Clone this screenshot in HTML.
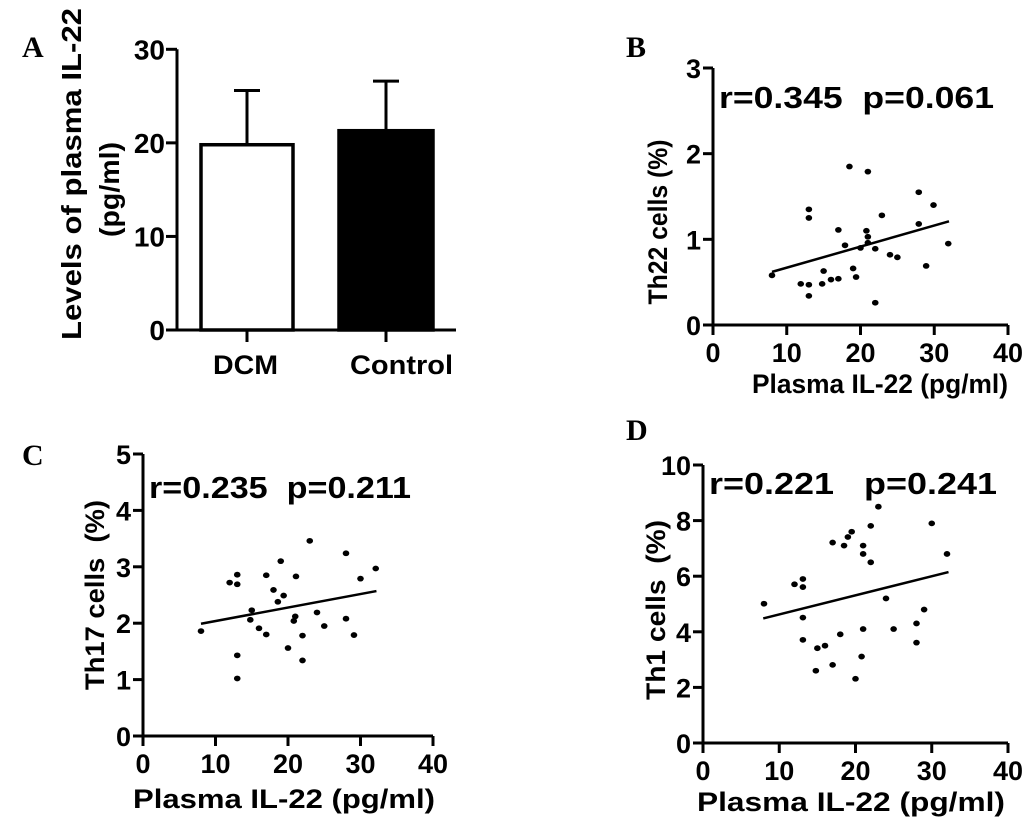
<!DOCTYPE html>
<html><head><meta charset="utf-8">
<style>
html,body{margin:0;padding:0;background:#fff;}
svg{display:block;}
text{font-family:"Liberation Sans",Arial,sans-serif;font-weight:bold;fill:#000;white-space:pre;}
.lt{font-family:"Liberation Serif",serif;font-weight:bold;font-size:30px;}
</style></head>
<body>
<svg id="fig" width="1033" height="827" viewBox="0 0 1033 827" xmlns="http://www.w3.org/2000/svg"></svg>
<script>
// Panel A data
const barCategories = ["DCM", "Control"];
const barMeans = [19.8, 21.3];
const barErrors = [5.8, 5.3];
const barTicks = [0, 10, 20, 30];
// Panel B data
const bX = [8.0,11.9,13.0,13.0,13.0,13.0,14.8,15.0,16.0,17.0,17.0,17.9,18.5,19.0,19.4,20.0,20.8,21.0,21.0,21.0,22.0,22.0,22.9,24.0,25.0,27.9,27.9,28.9,29.9,31.9];
const bY = [0.58,0.48,0.47,0.34,1.35,1.25,0.48,0.63,0.53,0.54,1.11,0.93,1.85,0.66,0.56,0.90,1.10,1.03,1.79,0.96,0.89,0.26,1.28,0.82,0.79,1.55,1.18,0.69,1.40,0.95];
const bFit = [[8, 0.62], [32, 1.21]];
const bYTicks = [0, 1, 2, 3];
// Panel C data
const cX = [8.0,11.95,13.0,13.0,13.0,13.0,15.0,14.8,16.0,17.0,17.0,18.0,18.6,19.0,19.4,20.0,21.1,21.0,20.8,22.0,22.0,23.0,24.0,25.0,28.0,28.0,29.1,30.0,32.1];
const cY = [1.86,2.72,2.86,2.69,1.43,1.02,2.23,2.06,1.91,2.85,1.80,2.59,2.38,3.10,2.49,1.56,2.83,2.12,2.04,1.78,1.34,3.46,2.19,1.95,3.24,2.08,1.79,2.79,2.97];
const cFit = [[8, 1.99], [32.2, 2.57]];
const cYTicks = [0, 1, 2, 3, 4, 5];
// Panel D data
const dX = [8.0,12.0,13.1,13.1,13.1,13.1,14.8,15.0,16.0,17.0,17.0,18.0,18.5,19.0,19.5,20.0,20.8,21.0,21.0,21.0,22.0,22.0,23.0,24.0,25.0,28.0,28.0,29.0,30.0,32.0];
const dY = [5.01,5.71,5.90,5.61,4.51,3.71,2.60,3.41,3.50,2.81,7.21,3.91,7.10,7.41,7.60,2.31,3.11,4.10,7.10,6.80,7.81,6.50,8.50,5.20,4.10,4.30,3.61,4.80,7.90,6.80];
const dFit = [[7.9, 4.48], [32.2, 6.15]];
const dYTicks = [0, 2, 4, 6, 8, 10];
const xTicks = [0, 10, 20, 30, 40];

const NS = "http://www.w3.org/2000/svg";
const svg = document.getElementById("fig");
function mk(tag, attrs, parent) {
  const e = document.createElementNS(NS, tag);
  for (const k in attrs) e.setAttribute(k, attrs[k]);
  (parent || svg).appendChild(e);
  return e;
}
function txt(s, attrs, parent) { const t = mk("text", attrs, parent); t.textContent = s; return t; }
const TL = {lengthAdjust: "spacingAndGlyphs"};

// ---------- Panel A ----------
const gA = mk("g", {});


const la = txt("A", {x: 22, y: 57, class: "lt"}, gA);


const aX0 = 177, aY0 = 330, aPer = 280.7 / 30;
const aY = v => aY0 - v * aPer;
const aCenters = [247, 386], aHalf = [46, 47];
const axA = mk("path", {d: `M${aX0} ${aY(30)}V${aY0}M166 ${aY0}H456`, stroke: "#000", "stroke-width": 3, fill: "none"}, gA);


barTicks.forEach(t => {
  const tk = mk("line", {x1: aX0 - 11, x2: aX0, y1: aY(t), y2: aY(t), stroke: "#000", "stroke-width": 3}, gA);
  
  
  const tl = txt(String(t), {x: aX0 - 12, y: aY(t) + 10, "font-size": 28, "text-anchor": "end"}, gA);
  
  
});
barCategories.forEach((c, i) => {
  const cx = aCenters[i];
  const top = aY(barMeans[i]), et = aY(barMeans[i] + barErrors[i]);
  const eb = mk("path", {d: `M${cx} ${top}V${et}M${cx - 13} ${et}H${cx + 13}`, stroke: "#000", "stroke-width": 3, fill: "none"}, gA);
  
  
  const r = mk("rect", {x: cx - aHalf[i], y: top, width: aHalf[i] * 2, height: aY0 - top, fill: i === 0 ? "#fff" : "#000", stroke: "#000", "stroke-width": 3.5}, gA);
  
  
  const tk = mk("line", {x1: cx, x2: cx, y1: aY0, y2: aY0 + 12, stroke: "#000", "stroke-width": 3}, gA);
  
  
  const lb = txt(c, {x: i ? 350 : 213, y: 374, "font-size": 27, textLength: i ? 103 : 65, ...TL}, gA);
  
  
});
const ya1 = txt("Levels of plasma IL-22", {x: 0, y: 0, "font-size": 28, textLength: 332, ...TL, transform: "translate(81,340) rotate(-90)"}, gA);


const ya2 = txt("(pg/ml)", {x: 0, y: 0, "font-size": 28, textLength: 95, ...TL, transform: "translate(119,237) rotate(-90)"}, gA);



// ---------- Scatter panels ----------
function scatter(cfg) {
  const g = mk("g", {});
  
  
  const xs = v => cfg.x0 + v / 40 * cfg.xw;
  const ys = v => cfg.y0 - v / cfg.ymax * cfg.yh;
  const lt = txt(cfg.letter, {x: cfg.lx, y: cfg.ly, class: "lt"}, g);
  
  
  const ax = mk("path", {d: `M${cfg.x0} ${ys(cfg.ymax)}V${cfg.y0}H${xs(40)}`, stroke: "#000", "stroke-width": 3, fill: "none"}, g);
  
  
  cfg.yt.forEach(t => {
    const tk = mk("line", {x1: cfg.x0 - 10, x2: cfg.x0, y1: ys(t), y2: ys(t), stroke: "#000", "stroke-width": 3}, g);
    
    
    const tl = txt(String(t), {x: cfg.x0 - 12, y: ys(t) + 10, "font-size": 27, "text-anchor": "end"}, g);
    
    
  });
  xTicks.forEach(t => {
    const tk = mk("line", {x1: xs(t), x2: xs(t), y1: cfg.y0, y2: cfg.y0 + 10, stroke: "#000", "stroke-width": 3}, g);
    
    
    const tl = txt(String(t), {x: xs(t), y: cfg.y0 + 37, "font-size": 27, "text-anchor": "middle"}, g);
    
    
  });
  const fl = mk("line", {x1: xs(cfg.fit[0][0]), y1: ys(cfg.fit[0][1]), x2: xs(cfg.fit[1][0]), y2: ys(cfg.fit[1][1]), stroke: "#000", "stroke-width": 2.5}, g);
  
  
  cfg.xd.forEach((v, i) => {
    const p = mk("ellipse", {cx: xs(v), cy: ys(cfg.yd[i]), rx: 3.3, ry: 2.9, fill: "#000"}, g);
    
    
  });
  const st = txt(cfg.stat, {x: cfg.x0 + 6, y: cfg.sty, "font-size": 31, textLength: cfg.stw, ...TL}, g);
  
  
  const xt = txt("Plasma IL-22 (pg/ml)", {x: cfg.xtx, y: cfg.xty, "font-size": 27, textLength: cfg.xtw, ...TL}, g);
  
  
  const yt = txt(cfg.ylab, {x: 0, y: 0, "font-size": 27, textLength: cfg.ylw, ...TL, "text-anchor": "middle", transform: `translate(${cfg.ylx},${cfg.yly}) rotate(-90)`}, g);
  
  
}
scatter({name: "panel-b-scatter", letter: "B", lx: 626, ly: 57, x0: 713, y0: 325, xw: 295, ymax: 3, yh: 257, yt: bYTicks, xd: bX, yd: bY, fit: bFit, stat: "r=0.345  p=0.061", sty: 108, stw: 275, xtx: 752, xty: 393, xtw: 256, ylab: "Th22 cells (%)", ylx: 667, yly: 222, ylw: 165});
scatter({name: "panel-c-scatter", letter: "C", lx: 22, ly: 465, x0: 143, y0: 736, xw: 290, ymax: 5, yh: 282, yt: cYTicks, xd: cX, yd: cY, fit: cFit, stat: "r=0.235  p=0.211", sty: 498, stw: 262, xtx: 133, xty: 808, xtw: 302, ylab: "Th17 cells  (%)", ylx: 104, yly: 595, ylw: 190});
scatter({name: "panel-d-scatter", letter: "D", lx: 626, ly: 440, x0: 703, y0: 743, xw: 305, ymax: 10, yh: 278, yt: dYTicks, xd: dX, yd: dY, fit: dFit, stat: "r=0.221   p=0.241", sty: 494, stw: 288, xtx: 697, xty: 811, xtw: 308, ylab: "Th1 cells  (%)", ylx: 665, yly: 610, ylw: 180});
</script>
</body></html>
